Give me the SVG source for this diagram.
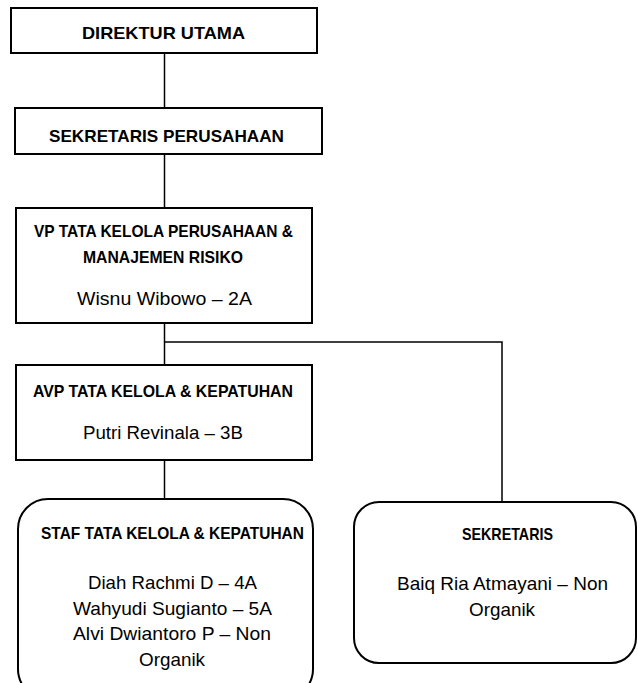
<svg xmlns="http://www.w3.org/2000/svg" width="638" height="683" viewBox="0 0 638 683">
<style>
.box{fill:#fff;stroke:#000;stroke-width:2}
.b{font-family:"Liberation Sans",Arial,sans-serif;font-weight:bold;font-size:17px;fill:#000;text-anchor:middle}
.r{font-family:"Liberation Sans",Arial,sans-serif;font-size:19px;fill:#000;text-anchor:middle}
.conn{fill:none;stroke:#000;stroke-width:1.5}
</style>
<defs><clipPath id="c5"><rect x="0" y="0" width="638" height="672"/></clipPath></defs>
<rect width="638" height="683" fill="#fff"/>
<g id="connectors">
<path class="conn" d="M164.5 53V108M164.5 154V208M164.5 323V365M164.5 342H502V502M164.5 460V499"/>
</g>
<g id="direktur">
<rect class="box" x="11" y="8" width="306" height="45"/>
<text class="b" x="163.5" y="39" textLength="163" lengthAdjust="spacingAndGlyphs">DIREKTUR UTAMA</text>
</g>
<g id="sekper">
<rect class="box" x="15" y="108" width="307" height="46"/>
<text class="b" x="166.5" y="141.5" textLength="235" lengthAdjust="spacingAndGlyphs">SEKRETARIS PERUSAHAAN</text>
</g>
<g id="vp">
<rect class="box" x="16" y="208" width="296" height="115"/>
<text class="b" x="163.5" y="237" textLength="259" lengthAdjust="spacingAndGlyphs">VP TATA KELOLA PERUSAHAAN &amp;</text>
<text class="b" x="163" y="262.5" textLength="160" lengthAdjust="spacingAndGlyphs">MANAJEMEN RISIKO</text>
<text class="r" x="164.5" y="305" textLength="175" lengthAdjust="spacingAndGlyphs">Wisnu Wibowo – 2A</text>
</g>
<g id="avp">
<rect class="box" x="16" y="365" width="296" height="95"/>
<text class="b" x="163" y="397" textLength="260" lengthAdjust="spacingAndGlyphs">AVP TATA KELOLA &amp; KEPATUHAN</text>
<text class="r" x="163" y="439" textLength="160" lengthAdjust="spacingAndGlyphs">Putri Revinala – 3B</text>
</g>
<g id="staf">
<rect class="box" x="18" y="499" width="295" height="200" rx="30" ry="30"/>
<text class="b" x="172.5" y="539" textLength="263" lengthAdjust="spacingAndGlyphs">STAF TATA KELOLA &amp; KEPATUHAN</text>
<text class="r" x="172.5" y="589" textLength="169" lengthAdjust="spacingAndGlyphs">Diah Rachmi D – 4A</text>
<text class="r" x="172.5" y="615" textLength="199" lengthAdjust="spacingAndGlyphs">Wahyudi Sugianto – 5A</text>
<text class="r" x="172" y="640" textLength="198" lengthAdjust="spacingAndGlyphs">Alvi Dwiantoro P – Non</text>
<text class="r" x="172" y="666" textLength="66" lengthAdjust="spacingAndGlyphs" clip-path="url(#c5)">Organik</text>
</g>
<g id="sekretaris">
<rect class="box" x="354" y="502" width="282" height="161" rx="25" ry="25"/>
<text class="b" x="507.5" y="540" textLength="91" lengthAdjust="spacingAndGlyphs">SEKRETARIS</text>
<text class="r" x="502.5" y="590" textLength="211" lengthAdjust="spacingAndGlyphs">Baiq Ria Atmayani – Non</text>
<text class="r" x="502" y="616" textLength="66" lengthAdjust="spacingAndGlyphs">Organik</text>
</g>
</svg>
